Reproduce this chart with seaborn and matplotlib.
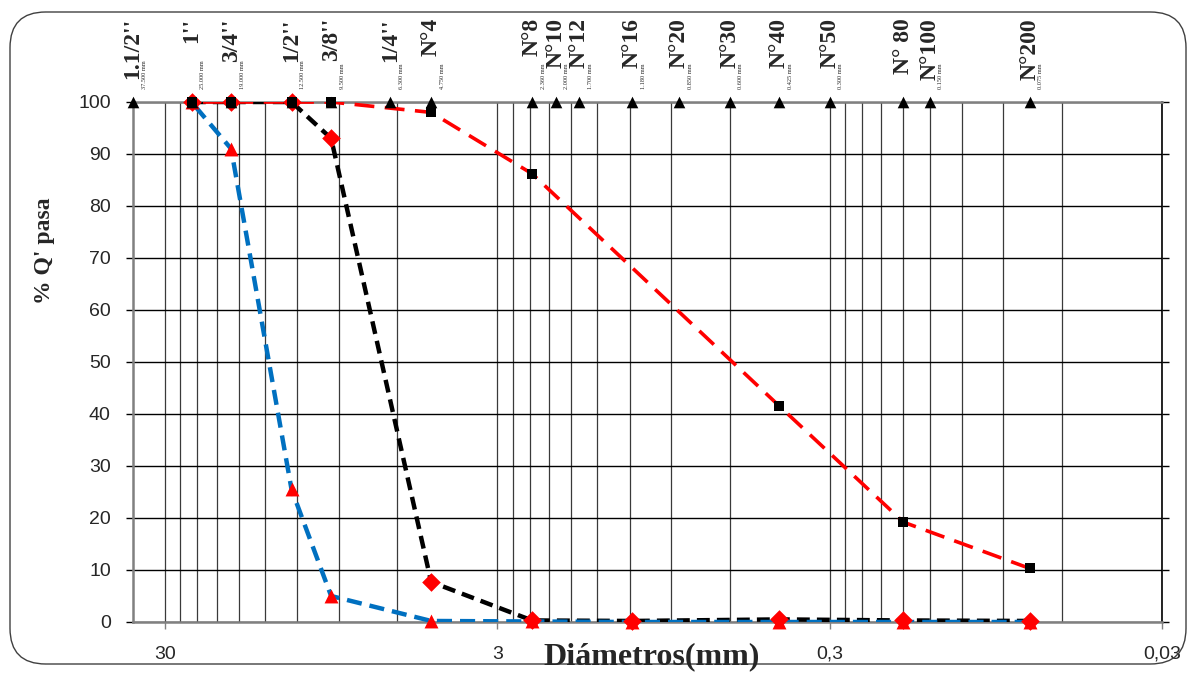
import matplotlib
matplotlib.use("Agg")
import matplotlib.pyplot as plt
import matplotlib.ticker as mticker
from matplotlib.patches import FancyBboxPatch
from matplotlib.transforms import blended_transform_factory
import seaborn as sns
import pandas as pd

# sieve series (top markers and labels)
sieve_names = ["1.1/2''", "1''", "3/4''", "1/2''", "3/8''", "1/4''", "N°4", "N°8", "N°10",
               "N°12", "N°16", "N°20", "N°30", "N°40", "N°50", "N° 80", "N°100", "N°200"]
sieve_mm = [37.5, 25.0, 19.0, 12.5, 9.5, 6.3, 4.75, 2.36, 2.0,
            1.7, 1.18, 0.85, 0.6, 0.425, 0.3, 0.18, 0.15, 0.075]
sieve_mm_text = ["37.500 mm", "25.000 mm", "19.000 mm", "12.500 mm", "9.500 mm", "6.300 mm",
                 "4.750 mm", "2.360 mm", "2.000 mm", "1.700 mm", "1.180 mm", "0.850 mm",
                 "0.600 mm", "0.425 mm", "0.300 mm", "", "0.150 mm", "0.075 mm"]
sieve_top = [100] * len(sieve_mm)

# fine aggregate: red dashed line, black squares
fine_mm = [25.0, 19.0, 12.5, 9.5, 4.75, 2.36, 0.425, 0.18, 0.075]
fine_pass = [100, 100, 100, 100, 98.0, 86.2, 41.5, 19.2, 10.3]

# coarse aggregate A: black dashed line, red diamonds
coarse_a_mm = [25.0, 19.0, 12.5, 9.5, 4.75, 2.36, 1.18, 0.425, 0.18, 0.075]
coarse_a_pass = [100, 100, 100, 93.0, 7.7, 0.3, 0.2, 0.5, 0.3, 0.2]

# coarse aggregate B: blue dashed line, red triangles
coarse_b_mm = [25.0, 19.0, 12.5, 9.5, 4.75, 2.36, 1.18, 0.425, 0.18, 0.075]
coarse_b_pass = [100, 91.0, 25.5, 5.0, 0.2, 0.1, 0.0, 0.0, 0.0, 0.0]

x_major = [30, 3, 0.3, 0.03]
x_major_labels = ["30", "3", "0,3", "0,03"]

sns.set_theme(style="white")
plt.rcParams["font.family"] = ["Liberation Sans", "DejaVu Sans"]
serif = ["Liberation Serif", "DejaVu Serif"]

fig = plt.figure(figsize=(11.89, 6.74), dpi=100)
ax = fig.add_axes([133 / 1189, 1 - 622 / 674, 1029 / 1189, 520 / 674])

ax.set_xscale("log")
ax.set_xlim(37.5, 0.03)
ax.set_ylim(0, 100)

# Excel-style log grid: minor lines at k * 0.03 * 10^n
minor = [k * base for base in [0.03, 0.3, 3] for k in range(2, 10)]
ax.xaxis.set_major_locator(mticker.FixedLocator(x_major))
ax.xaxis.set_major_formatter(mticker.FixedFormatter(x_major_labels))
ax.xaxis.set_minor_locator(mticker.FixedLocator(minor))
ax.xaxis.set_minor_formatter(mticker.NullFormatter())
ax.yaxis.set_major_locator(mticker.MultipleLocator(10))

ax.grid(True, axis="y", which="major", color="black", lw=1.0)
ax.grid(True, axis="x", which="both", color="#3a3a3a", lw=0.9)

ax.tick_params(axis="x", which="major", direction="out", length=5, width=1,
               color="#808080", labelsize=14, pad=12, bottom=True)
ax.tick_params(axis="x", which="minor", length=0)
ax.tick_params(axis="y", which="major", direction="out", length=5, width=1,
               color="black", labelsize=14, pad=11, left=True, right=True)

for side in ["left", "bottom", "top"]:
    ax.spines[side].set_color("#808080")
    ax.spines[side].set_linewidth(1.8)
ax.spines["right"].set_color("black")
ax.spines["right"].set_linewidth(1.2)

# data series
sns.lineplot(x=coarse_a_mm, y=coarse_a_pass, ax=ax, color="black", lw=3.2,
             linestyle=(0, (2.9, 1.6)), zorder=3)
sns.lineplot(x=fine_mm, y=fine_pass, ax=ax, color="red", lw=2.6,
             linestyle=(0, (5.5, 2.9)), zorder=4)
sns.lineplot(x=coarse_b_mm, y=coarse_b_pass, ax=ax, color="#0070C0", lw=3.2,
             linestyle=(0, (3.4, 1.8)), zorder=5)

sns.scatterplot(x=coarse_a_mm, y=coarse_a_pass, ax=ax, marker="D", color="red",
                s=90, linewidth=0, zorder=6, clip_on=False)
sns.scatterplot(x=coarse_b_mm, y=coarse_b_pass, ax=ax, marker="^", color="red",
                s=100, linewidth=0, zorder=7, clip_on=False)
sns.scatterplot(x=fine_mm, y=fine_pass, ax=ax, marker="s", color="black",
                s=60, linewidth=0, zorder=8, clip_on=False)
sns.scatterplot(x=sieve_mm, y=sieve_top, ax=ax, marker="^", color="black",
                s=70, linewidth=0, zorder=9, clip_on=False)

# sieve labels above the plot
trans = blended_transform_factory(ax.transData, ax.transAxes)
for name, mm, txt in zip(sieve_names, sieve_mm, sieve_mm_text):
    ax.annotate(name, xy=(mm, 1.0), xycoords=trans, xytext=(0, 84),
                textcoords="offset pixels", rotation=90, ha="center", va="top",
                fontsize=17, fontweight="bold", family=serif, annotation_clip=False)
    if txt:
        ax.annotate(txt, xy=(mm, 1.0), xycoords=trans, xytext=(11, 13),
                    textcoords="offset pixels", rotation=90, ha="center", va="bottom",
                    fontsize=4.5, family=serif, annotation_clip=False)

fig.text(45 / 1189, 1 - 251 / 674, "% Q' pasa", rotation=90, ha="center", va="center",
         fontsize=17, fontweight="bold", family=serif)
fig.text(652 / 1189, 1 - 657 / 674, "Diámetros(mm)", ha="center", va="center",
         fontsize=23, fontweight="bold", family=serif)

frame = FancyBboxPatch((10 / 1189, 10 / 674), 1176 / 1189, 652 / 674,
                       boxstyle="round,pad=0,rounding_size=0.03",
                       transform=fig.transFigure, fill=False, ec="#404040", lw=1.0,
                       mutation_aspect=1189 / 674)
fig.patches.append(frame)

fig.savefig("out.png", dpi=100)
